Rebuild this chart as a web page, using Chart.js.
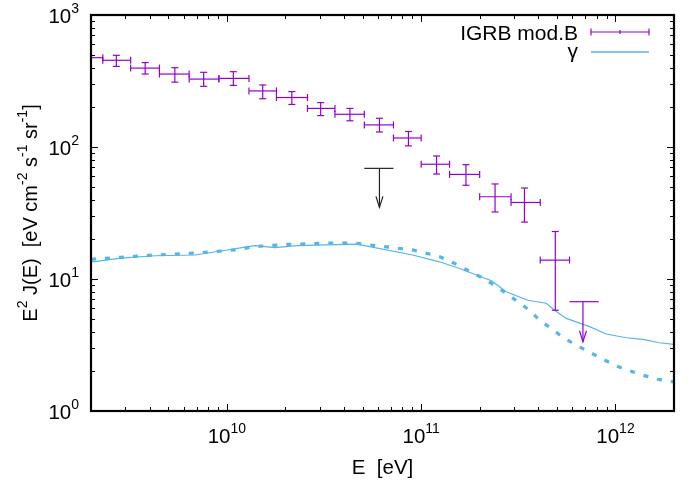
<!DOCTYPE html>
<html lang="en">
<head>
<meta charset="UTF-8">
<title>IGRB mod.B vs gamma</title>
<script src="https://cdn.jsdelivr.net/npm/chart.js"></script>
<style>
  html, body { margin: 0; padding: 0; background: #fff; }
  canvas { display: block; }
</style>
</head>
<body>
<canvas id="chart" width="694" height="482"></canvas>
<script>
  // IGRB model B points (energy bin centre, bin edges, flux and error range)
  const igrbE   = [1.9e9, 2.7e9, 3.8e9, 5.4e9, 7.6e9, 1.08e10, 1.53e10, 2.16e10, 3.04e10, 4.3e10, 6.1e10, 8.6e10, 1.2e11, 1.7e11, 2.4e11, 3.4e11, 4.9e11];
  const igrbLoE = [1.6e9, 2.3e9, 3.2e9, 4.5e9, 6.4e9, 9.1e9, 1.3e10, 1.8e10, 2.6e10, 3.6e10, 5.1e10, 7.2e10, 1.0e11, 1.4e11, 2.0e11, 2.9e11, 4.1e11];
  const igrbHiE = [2.3e9, 3.2e9, 4.5e9, 6.4e9, 9.1e9, 1.3e10, 1.8e10, 2.6e10, 3.6e10, 5.1e10, 7.2e10, 1.0e11, 1.4e11, 2.0e11, 2.9e11, 4.1e11, 5.8e11];
  const igrbY   = [475, 454, 396, 357, 327, 331, 266, 237, 196, 177, 147, 117, 74, 62, 42, 38, 13.9];
  const igrbYLo = [430, 408, 357, 310, 288, 293, 232, 210, 173, 158, 130, 102, 62.4, 51.3, 32.2, 27, 5.8];
  const igrbYHi = [520, 495, 436, 399, 368, 372, 295, 263, 217, 196, 165, 131, 85.5, 73.5, 52.5, 48.9, 22.9];

  // upper limits
  const ulLoE   = [5.1e10, 5.8e11];
  const ulHiE   = [7.2e10, 8.2e11];
  const ulE     = [6.1e10, 6.8e11];
  const ulY     = [68.9, 6.73];
  const ulTip   = [34.9, 3.35];
  const ulColor = ['#222222', '#9400d3'];

  // gamma curves
  const gammaE = [2.0e9, 2.85e9, 4.27e9, 6.84e9, 9.3e9, 1.39e10, 1.77e10, 2.29e10, 4.66e10, 9.04e10, 1.24e11, 1.58e11, 2.0e11, 2.3e11, 2.74e11, 3.54e11, 4.4e11, 4.86e11, 5.58e11, 7.35e11, 8.96e11, 1.135e12, 1.38e12, 1.68e12, 2.0e12];
  const gammaY = [13.4, 14.4, 15.0, 15.2, 16.3, 17.9, 17.3, 17.9, 18.4, 15.2, 13.5, 12.0, 10.5, 9.7, 8.0, 6.9, 6.55, 5.8, 5.03, 4.36, 3.83, 3.59, 3.49, 3.29, 3.2];
  const gammaDashE = [2.0e9, 2.85e9, 4.27e9, 6.84e9, 1.10e10, 1.39e10, 2.06e10, 3.81e10, 4.66e10, 9.04e10, 1.24e11, 1.49e11, 1.74e11, 2.04e11, 2.34e11, 2.74e11, 3.15e11, 3.61e11, 4.06e11, 4.74e11, 5.36e11, 6.28e11, 7.35e11, 8.61e11, 1.01e12, 1.18e12, 1.38e12, 1.65e12, 2.0e12];
  const gammaDashY = [14.1, 14.6, 15.2, 15.7, 16.6, 17.6, 18.3, 18.8, 18.6, 16.6, 14.8, 13.1, 11.6, 10.3, 9.1, 7.8, 6.7, 5.8, 4.89, 4.16, 3.61, 3.16, 2.79, 2.47, 2.19, 2.02, 1.87, 1.74, 1.66];

  // axis ticks
  const xMajor = [1e10, 1e11, 1e12];
  const xMajorExp = ['10', '11', '12'];
  const yMajor = [1, 10, 100, 1000];
  const yMajorExp = ['0', '1', '2', '3'];

  const FONT = '"Liberation Sans", Arial, Helvetica, sans-serif';
  const PURPLE = '#9400d3';
  const SKY = '#56b4e9';

  function toPoints(xs, ys) {
    return xs.map((x, i) => ({ x: x, y: ys[i] }));
  }

  // minor ticks at 2..9 times each decade
  function minorTicks(from, to) {
    const out = [];
    for (let d = from; d < to; d *= 10) {
      for (let k = 2; k <= 9; k++) out.push(k * d);
    }
    return out;
  }

  // text with superscripts: parts = [[text, isSup], ...]
  function drawRich(ctx, parts, x, y, align, size) {
    size = size || 20;
    const supSize = Math.round(size * 0.7);
    let w = 0;
    parts.forEach(p => {
      ctx.font = (p[1] ? supSize : size) + 'px ' + FONT;
      w += ctx.measureText(p[0]).width;
    });
    let cx = align === 'right' ? x - w : align === 'center' ? x - w / 2 : x;
    ctx.textAlign = 'left';
    ctx.textBaseline = 'alphabetic';
    parts.forEach(p => {
      ctx.font = (p[1] ? supSize : size) + 'px ' + FONT;
      ctx.fillText(p[0], cx, p[1] ? y - 10 : y);
      cx += ctx.measureText(p[0]).width;
    });
  }

  function line(ctx, x1, y1, x2, y2) {
    ctx.beginPath();
    ctx.moveTo(x1, y1);
    ctx.lineTo(x2, y2);
    ctx.stroke();
  }

  const gnuplotLook = {
    id: 'gnuplotLook',
    beforeDraw(chart) {
      const ctx = chart.ctx;
      ctx.save();
      ctx.fillStyle = '#fff';
      ctx.fillRect(0, 0, chart.width, chart.height);
      ctx.restore();
    },
    afterDatasetsDraw(chart) {
      const ctx = chart.ctx;
      const xs = chart.scales.x, ys = chart.scales.y;
      const a = chart.chartArea;

      ctx.save();
      ctx.beginPath();
      ctx.rect(a.left, a.top, a.right - a.left, a.bottom - a.top);
      ctx.clip();
      ctx.lineWidth = 1.2;

      // error bars
      ctx.strokeStyle = PURPLE;
      igrbE.forEach((e, i) => {
        const px = xs.getPixelForValue(e);
        const py = ys.getPixelForValue(igrbY[i]);
        const x1 = xs.getPixelForValue(igrbLoE[i]);
        const x2 = xs.getPixelForValue(igrbHiE[i]);
        const y1 = ys.getPixelForValue(igrbYHi[i]);
        const y2 = ys.getPixelForValue(igrbYLo[i]);
        line(ctx, x1, py, x2, py);
        line(ctx, x1, py - 3.5, x1, py + 3.5);
        line(ctx, x2, py - 3.5, x2, py + 3.5);
        line(ctx, px, y1, px, y2);
        line(ctx, px - 3.5, y1, px + 3.5, y1);
        line(ctx, px - 3.5, y2, px + 3.5, y2);
      });

      // upper limits
      ulE.forEach((e, i) => {
        ctx.strokeStyle = ulColor[i];
        const px = xs.getPixelForValue(e);
        const py = ys.getPixelForValue(ulY[i]);
        const tip = ys.getPixelForValue(ulTip[i]);
        line(ctx, xs.getPixelForValue(ulLoE[i]), py, xs.getPixelForValue(ulHiE[i]), py);
        line(ctx, px, py, px, tip);
        ctx.beginPath();
        ctx.moveTo(px - 3.5, tip - 11);
        ctx.lineTo(px, tip);
        ctx.lineTo(px + 3.5, tip - 11);
        ctx.stroke();
      });
      ctx.restore();
    },
    afterDraw(chart) {
      const ctx = chart.ctx;
      const xs = chart.scales.x, ys = chart.scales.y;
      const a = chart.chartArea;
      ctx.save();
      ctx.strokeStyle = '#000';
      ctx.fillStyle = '#000';

      // ticks on all four sides, pointing inward
      ctx.lineWidth = 1;
      const tick = (vals, len, isX) => {
        vals.forEach(v => {
          if (isX) {
            const p = Math.round(xs.getPixelForValue(v)) + 0.5;
            if (p < a.left || p > a.right) return;
            line(ctx, p, a.bottom, p, a.bottom - len);
            line(ctx, p, a.top, p, a.top + len);
          } else {
            const p = Math.round(ys.getPixelForValue(v)) + 0.5;
            if (p < a.top - 1 || p > a.bottom + 1) return;
            line(ctx, a.left, p, a.left + len, p);
            line(ctx, a.right, p, a.right - len, p);
          }
        });
      };
      tick(xMajor, 7, true);
      tick(minorTicks(1e9, 1e12).concat([2e12]), 4, true);
      tick(yMajor, 7, false);
      tick(minorTicks(1, 1000), 4, false);

      // frame
      ctx.lineWidth = 2.2;
      ctx.strokeRect(a.left, a.top, a.right - a.left, a.bottom - a.top);

      // tick labels
      yMajor.forEach((v, i) => {
        drawRich(ctx, [['10', false], [yMajorExp[i], true]], 79, ys.getPixelForValue(v) + 8, 'right', 20.5);
      });
      xMajor.forEach((v, i) => {
        drawRich(ctx, [['10', false], [xMajorExp[i], true]], xs.getPixelForValue(v), 443, 'center', 20.5);
      });

      // axis titles
      drawRich(ctx, [['E  [eV]', false]], (a.left + a.right) / 2, 474, 'center', 20.5);
      ctx.save();
      ctx.translate(37, (a.top + a.bottom) / 2);
      ctx.rotate(-Math.PI / 2);
      drawRich(ctx, [['E', false], ['2', true], [' J(E)  [eV cm', false], ['-2', true], [' s', false], ['-1', true], [' sr', false], ['-1', true], [']', false]], 0, 0, 'center', 20);
      ctx.restore();

      // key
      drawRich(ctx, [['IGRB mod.B', false]], 578, 40, 'right', 21);
      drawRich(ctx, [['\u03b3', false]], 578, 58, 'right', 21);
      ctx.strokeStyle = PURPLE;
      ctx.lineWidth = 1.2;
      line(ctx, 591, 32, 649, 32);
      line(ctx, 591, 28.5, 591, 35.5);
      line(ctx, 649, 28.5, 649, 35.5);
      line(ctx, 620, 30, 620, 34);
      ctx.strokeStyle = SKY;
      ctx.lineWidth = 1.5;
      line(ctx, 591, 52, 649, 52);
      ctx.restore();
    }
  };

  new Chart(document.getElementById('chart'), {
    type: 'scatter',
    data: {
      datasets: [{
        label: 'gamma',
        data: toPoints(gammaE, gammaY),
        showLine: true,
        borderColor: SKY,
        borderWidth: 1.2,
        pointRadius: 0,
        fill: false
      }, {
        label: 'gamma (dashed)',
        data: toPoints(gammaDashE, gammaDashY),
        showLine: true,
        borderColor: SKY,
        borderWidth: 3.2,
        borderDash: [5, 9],
        borderCapStyle: 'butt',
        pointRadius: 0,
        fill: false
      }, {
        label: 'IGRB mod.B',
        data: toPoints(igrbE, igrbY),
        showLine: false,
        pointRadius: 0,
        borderColor: PURPLE
      }]
    },
    options: {
      responsive: false,
      devicePixelRatio: 1,
      animation: false,
      events: [],
      layout: { padding: { top: 15, right: 20, left: 0, bottom: 0 } },
      plugins: {
        legend: { display: false },
        tooltip: { enabled: false }
      },
      scales: {
        x: {
          type: 'logarithmic',
          min: 2e9,
          max: 2e12,
          grid: { display: false },
          border: { display: false },
          ticks: { display: false },
          afterFit: s => { s.height = 71; }
        },
        y: {
          type: 'logarithmic',
          min: 1,
          max: 1000,
          grid: { display: false },
          border: { display: false },
          ticks: { display: false },
          afterFit: s => { s.width = 91; }
        }
      }
    },
    plugins: [gnuplotLook]
  });
</script>
</body>
</html>
